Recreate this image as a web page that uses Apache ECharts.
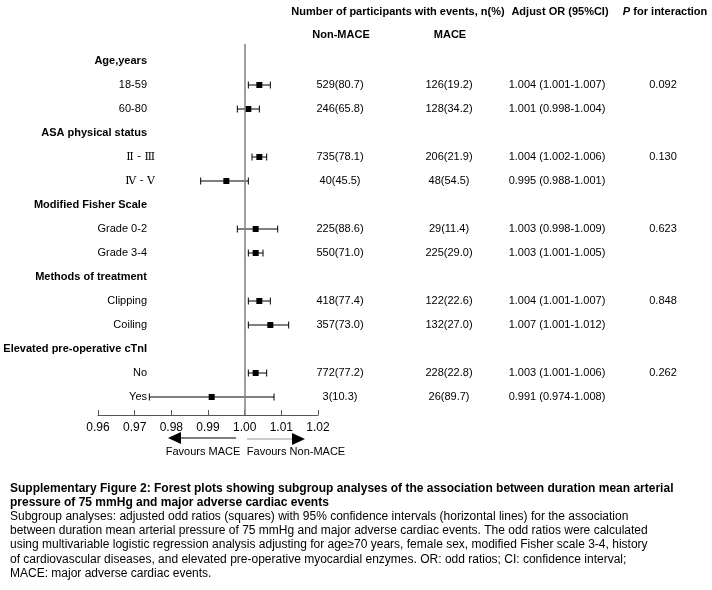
<!DOCTYPE html>
<html><head><meta charset="utf-8">
<script src="https://cdn.jsdelivr.net/npm/echarts@6/dist/echarts.min.js"></script>
<style>html,body{margin:0;padding:0;background:#fff}#c{width:712px;height:590px}</style>
</head><body><div id="c"></div>
<script>
// ---- data ----
var labels = ['Age,years','18-59','60-80','ASA physical status','Ⅱ - Ⅲ','Ⅳ - Ⅴ','Modified Fisher Scale','Grade 0-2','Grade 3-4','Methods of treatment','Clipping','Coiling','Elevated pre-operative cTnI','No','Yes'];
var isHeader = [1,0,0,1,0,0,1,0,0,1,0,0,1,0,0];
var orVal = [null,1.004,1.001,null,1.004,0.995,null,1.003,1.003,null,1.004,1.007,null,1.003,0.991];
var ciLow = [null,1.001,0.998,null,1.002,0.988,null,0.998,1.001,null,1.001,1.001,null,1.001,0.974];
var ciHigh = [null,1.007,1.004,null,1.006,1.001,null,1.009,1.005,null,1.007,1.012,null,1.006,1.008];
var nonMace = ['','529(80.7)','246(65.8)','','735(78.1)','40(45.5)','','225(88.6)','550(71.0)','','418(77.4)','357(73.0)','','772(77.2)','3(10.3)'];
var mace = ['','126(19.2)','128(34.2)','','206(21.9)','48(54.5)','','29(11.4)','225(29.0)','','122(22.6)','132(27.0)','','228(22.8)','26(89.7)'];
var orText = ['','1.004 (1.001-1.007)','1.001 (0.998-1.004)','','1.004 (1.002-1.006)','0.995 (0.988-1.001)','','1.003 (0.998-1.009)','1.003 (1.001-1.005)','','1.004 (1.001-1.007)','1.007 (1.001-1.012)','','1.003 (1.001-1.006)','0.991 (0.974-1.008)'];
var pText = ['','0.092','','','0.130','','','0.623','','','0.848','','','0.262',''];
var xTicks = [0.96,0.97,0.98,0.99,1.00,1.01,1.02];

// ---- layout ----
var FONT = 'Liberation Sans, Arial, sans-serif';
var SERIF = 'DejaVu Serif, Liberation Serif, serif';
var ROW = 24, ROW0 = 61;
var colX = {label:147, non:340, mace:449, or:557, p:663};

var chart = echarts.init(document.getElementById('c'), null, {renderer:'canvas'});

function isRoman(t){ return /[\u2160-\u217F]/.test(t); }
var labelData = labels.map(function(t,i){
  var d = {value:[colX.label,i], name:t, bold:isHeader[i]};
  if (isRoman(t)) d.label = {offset:[8,0]};
  return d;
});
function colData(arr, x){ var out=[]; arr.forEach(function(t,i){ if(t) out.push({value:[x,i], name:t}); }); return out; }
var pointData = [], barData = [];
orVal.forEach(function(v,i){ if(v!==null){ pointData.push([v,i]); barData.push([ciLow[i],ciHigh[i],i]); } });

var textSeries = function(data, pos, extra){
  return Object.assign({
    type:'scatter', xAxisIndex:1, yAxisIndex:1, symbolSize:0, clip:false, silent:true,
    itemStyle:{opacity:1},
    data:data,
    label:{show:true, position:pos, distance:0, color:'#000', fontFamily:FONT, fontSize:11,
      formatter:function(p){return p.data.name;}}
  }, extra||{});
};

var headerRows = [ (12-ROW0)/ROW, (35-ROW0)/ROW ];

chart.setOption({
  animation:false,
  grid:[
    {left:98, width:220, top:44, height:371},
    {left:0, width:712, top:0, height:590}
  ],
  xAxis:[
    {type:'value', gridIndex:0, min:0.96, max:1.02, interval:0.01, position:'bottom',
     axisLine:{show:true, onZero:false, lineStyle:{color:'#555', width:1}},
     axisTick:{show:true, inside:true, length:5, lineStyle:{color:'#555'}},
     splitLine:{show:false},
     axisLabel:{color:'#000', fontFamily:FONT, fontSize:12, margin:7,
       formatter:function(v){return v.toFixed(2);}}},
    {type:'value', gridIndex:1, min:0, max:712, show:false}
  ],
  yAxis:[
    {type:'value', gridIndex:0, inverse:true, min:-(ROW0-44)/ROW, max:(415-ROW0)/ROW, show:false, axisLine:{onZero:false}},
    {type:'value', gridIndex:1, inverse:true, min:-ROW0/ROW, max:(590-ROW0)/ROW, show:false, axisLine:{onZero:false}}
  ],
  series:[
    {type:'custom', xAxisIndex:0, yAxisIndex:0, data:barData, silent:true,
     renderItem:function(params, api){
       var a = api.coord([api.value(0), api.value(2)]);
       var b = api.coord([api.value(1), api.value(2)]);
       var h = 3.5;
       var st = {stroke:'#000', lineWidth:1};
       return {type:'group', children:[
         {type:'line', shape:{x1:a[0],y1:a[1],x2:b[0],y2:b[1]}, style:st},
         {type:'line', shape:{x1:a[0],y1:a[1]-h,x2:a[0],y2:a[1]+h}, style:st},
         {type:'line', shape:{x1:b[0],y1:b[1]-h,x2:b[0],y2:b[1]+h}, style:st}
       ]};
     }},
    {type:'scatter', xAxisIndex:0, yAxisIndex:0, data:pointData, symbol:'rect', symbolSize:6,
     itemStyle:{color:'#000', opacity:1}, silent:true, z:3,
     markLine:{silent:true, symbol:'none', label:{show:false},
       lineStyle:{color:'#808080', width:1.5, type:'solid'},
       data:[{xAxis:1.00}]}},
    textSeries(labelData, 'left', {label:{show:true, position:'left', distance:0, color:'#000', fontFamily:FONT, fontSize:11,
      formatter:function(p){
        if (p.data.bold) return '{b|'+p.data.name+'}';
        if (isRoman(p.data.name)) return '{r|'+p.data.name+'}';
        return p.data.name;
      },
      rich:{b:{fontWeight:'bold', fontFamily:FONT, fontSize:11, color:'#000'},
            r:{fontFamily:SERIF, fontSize:11, color:'#000'}}}}),
    textSeries(colData(nonMace, colX.non), 'inside'),
    textSeries(colData(mace, colX.mace), 'inside'),
    textSeries(colData(orText, colX.or), 'inside'),
    textSeries(colData(pText, colX.p), 'inside'),
    textSeries([
      {value:[398, headerRows[0]], name:'Number of participants with events, n(%)'},
      {value:[560, headerRows[0]], name:'Adjust OR (95%CI)'},
      {value:[341, headerRows[1]], name:'Non-MACE'},
      {value:[450, headerRows[1]], name:'MACE'}
    ], 'inside', {label:{show:true, position:'inside', color:'#000', fontFamily:FONT, fontSize:11, fontWeight:'bold',
      formatter:function(p){return p.data.name;}}}),
    textSeries([{value:[665, headerRows[0]], name:'P'}], 'inside', {label:{show:true, position:'inside', color:'#000',
      formatter:function(){return '{i|P} {b|for interaction}';},
      rich:{i:{fontStyle:'italic', fontWeight:'bold', fontFamily:FONT, fontSize:11, color:'#000'},
            b:{fontWeight:'bold', fontFamily:FONT, fontSize:11, color:'#000'}}}})
  ],
  graphic:[
    {type:'line', shape:{x1:180,y1:438,x2:236,y2:438}, style:{stroke:'#000', lineWidth:1}},
    {type:'polygon', shape:{points:[[168,438],[181,432],[181,444]]}, style:{fill:'#000'}},
    {type:'line', shape:{x1:247,y1:439,x2:293,y2:439}, style:{stroke:'#999', lineWidth:1}},
    {type:'polygon', shape:{points:[[305,439],[292,433],[292,445]]}, style:{fill:'#000'}},
    {type:'text', x:203, y:452, style:{text:'Favours MACE', fill:'#000', font:'11px '+FONT, align:'center', verticalAlign:'middle'}},
    {type:'text', x:296, y:452, style:{text:'Favours Non-MACE', fill:'#000', font:'11px '+FONT, align:'center', verticalAlign:'middle'}},
    {type:'text', x:10, y:489, style:{text:'Supplementary Figure 2: Forest plots showing subgroup analyses of the association between duration mean arterial', fill:'#000', font:'bold 12px '+FONT, verticalAlign:'middle'}},
    {type:'text', x:10, y:503, style:{text:'pressure of 75 mmHg and major adverse cardiac events', fill:'#000', font:'bold 12px '+FONT, verticalAlign:'middle'}},
    {type:'text', x:10, y:517, style:{text:'Subgroup analyses: adjusted odd ratios (squares) with 95% confidence intervals (horizontal lines) for the association', fill:'#000', font:'12px '+FONT, verticalAlign:'middle'}},
    {type:'text', x:10, y:531, style:{text:'between duration mean arterial pressure of 75 mmHg and major adverse cardiac events. The odd ratios were calculated', fill:'#000', font:'12px '+FONT, verticalAlign:'middle'}},
    {type:'text', x:10, y:545, style:{text:'using multivariable logistic regression analysis adjusting for age\u226570 years, female sex, modified Fisher scale 3-4, history', fill:'#000', font:'12px '+FONT, verticalAlign:'middle'}},
    {type:'text', x:10, y:560, style:{text:'of cardiovascular diseases, and elevated pre-operative myocardial enzymes. OR: odd ratios; CI: confidence interval;', fill:'#000', font:'12px '+FONT, verticalAlign:'middle'}},
    {type:'text', x:10, y:574, style:{text:'MACE: major adverse cardiac events.', fill:'#000', font:'12px '+FONT, verticalAlign:'middle'}}
  ]
});
</script></body></html>
